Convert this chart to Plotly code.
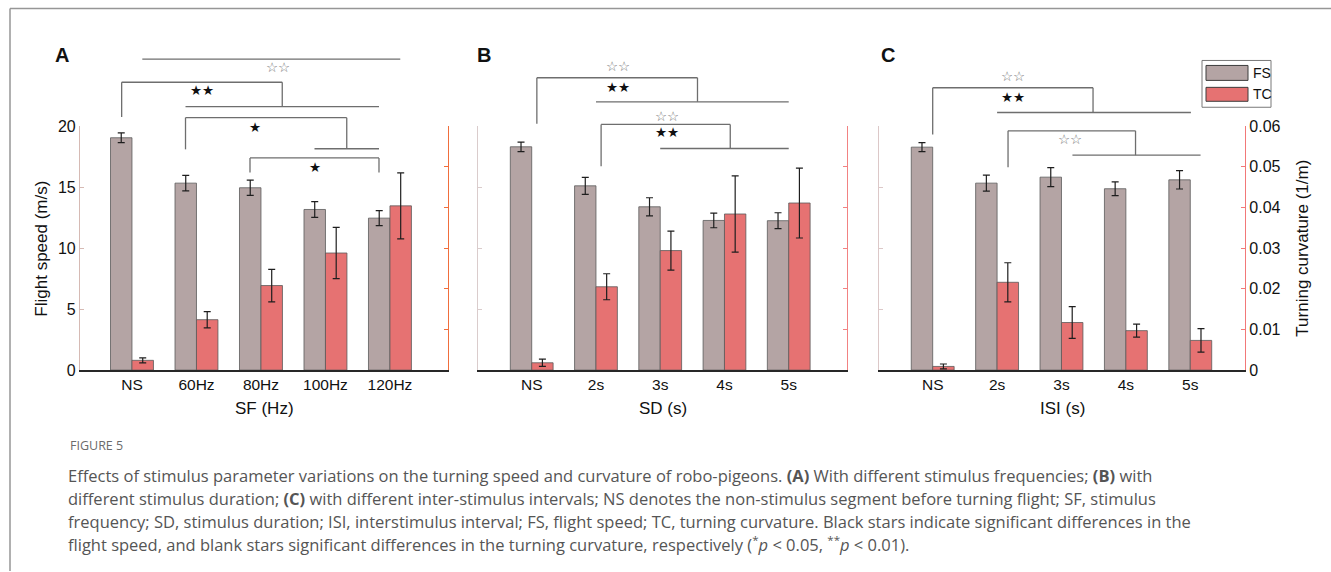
import plotly.graph_objects as go

# ---------------- data ----------------
cats_A = ["NS", "60Hz", "80Hz", "100Hz", "120Hz"]
cats_B = ["NS", "2s", "3s", "4s", "5s"]
cats_C = ["NS", "2s", "3s", "4s", "5s"]

fs_A = [19.05, 15.33, 14.95, 13.17, 12.46]
fs_A_err = [0.40, 0.64, 0.63, 0.64, 0.61]
tc_A = [0.0024, 0.0124, 0.0208, 0.0288, 0.0404]
tc_A_err = [0.0006, 0.0020, 0.0040, 0.0063, 0.0081]

fs_B = [18.31, 15.11, 13.39, 12.27, 12.25]
fs_B_err = [0.39, 0.70, 0.74, 0.60, 0.65]
tc_B = [0.0018, 0.0205, 0.0294, 0.0384, 0.0411]
tc_B_err = [0.0009, 0.0032, 0.0048, 0.0094, 0.0086]

fs_C = [18.28, 15.33, 15.82, 14.87, 15.60]
fs_C_err = [0.37, 0.66, 0.78, 0.56, 0.75]
tc_C = [0.0009, 0.0216, 0.0117, 0.0097, 0.0073]
tc_C_err = [0.0006, 0.0048, 0.0039, 0.0016, 0.0029]

fs_ticks = [0, 5, 10, 15, 20]
tc_ticks = [0, 0.01, 0.02, 0.03, 0.04, 0.05, 0.06]

# ---------------- style ----------------
W, H = 1331, 580
YS, YB = 0.975, 7.3
FS_COL = "rgb(180,164,164)"
TC_COL = "rgb(230,114,114)"
EDGE = "rgb(90,90,90)"
ERR = "rgb(30,30,30)"
FONT = "Liberation Sans, Arial, sans-serif"


def px_x(p):
    return p / W


def px_y(p):
    return 1 - max((p - YB) / YS, 0.5) / H


ydom = [px_y(371), px_y(126)]
panels = [
    dict(cats=cats_A, fs=fs_A, fse=fs_A_err, tc=tc_A, tce=tc_A_err,
         x0=80, x1=448, xr=[-0.806, 4.9],
         lcol="rgb(214,186,180)", rcol="rgb(240,110,60)",
         lshow=True, rshow=False, title="SF (Hz)", letter="A", lx=62),
    dict(cats=cats_B, fs=fs_B, fse=fs_B_err, tc=tc_B, tce=tc_B_err,
         x0=478, x1=847, xr=[-0.836, 4.907],
         lcol="rgb(218,204,204)", rcol="rgb(242,130,130)",
         lshow=False, rshow=False, title="SD (s)", letter="B", lx=484),
    dict(cats=cats_C, fs=fs_C, fse=fs_C_err, tc=tc_C, tce=tc_C_err,
         x0=879, x1=1245, xr=[-0.834, 4.85],
         lcol="rgb(220,200,200)", rcol="rgb(242,120,120)",
         lshow=False, rshow=True, title="ISI (s)", letter="C", lx=888),
]

fig = go.Figure()
layout = dict(
    width=W, height=H, margin=dict(l=0, r=0, t=0, b=0),
    paper_bgcolor="white", plot_bgcolor="rgba(0,0,0,0)",
    showlegend=False, barmode="overlay", autosize=False,
    font=dict(family=FONT, size=15, color="#111"),
)
shapes = []
annotations = []

for i, p in enumerate(panels):
    xa = "x" if i == 0 else f"x{i + 1}"
    yl = "y" if i == 0 else f"y{2 * i + 1}"
    yr = f"y{2 * i + 2}"
    fig.add_trace(go.Bar(
        x=p["cats"], y=p["fs"], xaxis=xa, yaxis=yl, name="FS",
        width=0.333, offset=-0.333, marker=dict(color=FS_COL, line=dict(color=EDGE, width=0.8)),
        error_y=dict(type="data", array=p["fse"], color=ERR, thickness=1.2, width=3.5),
    ))
    fig.add_trace(go.Bar(
        x=p["cats"], y=p["tc"], xaxis=xa, yaxis=yr, name="TC",
        width=0.333, offset=0, marker=dict(color=TC_COL, line=dict(color=EDGE, width=0.8)),
        error_y=dict(type="data", array=p["tce"], color=ERR, thickness=1.2, width=3.5),
    ))
    xkey = "xaxis" if i == 0 else f"xaxis{i + 1}"
    ylkey = "yaxis" if i == 0 else f"yaxis{2 * i + 1}"
    yrkey = f"yaxis{2 * i + 2}"
    layout[xkey] = dict(
        domain=[px_x(p["x0"]), px_x(p["x1"])], anchor=yl, type="category",
        range=p["xr"], showline=True, linecolor="rgb(40,40,40)", linewidth=1.5,
        ticks="", showgrid=False, zeroline=False,
        tickfont=dict(size=15.5, color="#111", family=FONT),
    )
    layout[ylkey] = dict(
        domain=ydom, anchor=xa, range=[0, 20], tickvals=fs_ticks,
        showline=True, linecolor=p["lcol"], linewidth=1.2,
        ticks="inside", ticklen=4, tickcolor=p["lcol"], showgrid=False, zeroline=False,
        showticklabels=p["lshow"], tickfont=dict(size=16, color="#111", family=FONT),
    )
    layout[yrkey] = dict(
        domain=ydom, anchor=xa, overlaying=yl, side="right", range=[0, 0.06],
        tickvals=tc_ticks, ticktext=["0", "0.01", "0.02", "0.03", "0.04", "0.05", "0.06"],
        showline=True, linecolor=p["rcol"], linewidth=1.2,
        ticks="inside", ticklen=4, tickcolor=p["rcol"], showgrid=False, zeroline=False,
        showticklabels=p["rshow"], tickfont=dict(size=16, color="#111", family=FONT),
    )
    annotations.append(dict(
        text=p["title"], xref=f"{xa} domain", x=0.5, yref="paper", y=px_y(410),
        showarrow=False, font=dict(size=17, color="#111", family=FONT),
        xanchor="center", yanchor="middle"))
    annotations.append(dict(
        text=f"<b>{p['letter']}</b>", xref="paper", x=px_x(p["lx"]), yref="paper", y=px_y(55),
        showarrow=False, font=dict(size=20, color="#111", family=FONT),
        xanchor="center", yanchor="middle"))

annotations.append(dict(
    text="Flight speed (m/s)", xref="paper", x=px_x(42), yref="paper", y=px_y(249),
    textangle=-90, showarrow=False, font=dict(size=17, color="#111", family=FONT),
    xanchor="center", yanchor="middle"))
annotations.append(dict(
    text="Turning curvature (1/m)", xref="paper", x=px_x(1303), yref="paper", y=px_y(249),
    textangle=-90, showarrow=False, font=dict(size=17, color="#111", family=FONT),
    xanchor="center", yanchor="middle"))

# ---------------- significance brackets ----------------
LC = "rgb(110,110,110)"


def seg(xa, ya, xa0, ya0, xa1, ya1):
    shapes.append(dict(type="line", xref=xa, yref=f"{ya} domain",
                       x0=xa0, y0=ya0 / 20, x1=xa1, y1=ya1 / 20,
                       line=dict(color=LC, width=1.3)))


def bracket(xa, ya, xl, xr, ytop, ylb, yrb, hx0, hx1):
    seg(xa, ya, xl, ylb, xl, ytop)
    seg(xa, ya, xl, ytop, xr, ytop)
    seg(xa, ya, xr, ytop, xr, yrb)
    seg(xa, ya, hx0, yrb, hx1, yrb)


def star(xa, ya, x, y, filled, n):
    annotations.append(dict(
        text=("★" if filled else "☆") * n, xref=xa, x=x, yref=f"{ya} domain", y=y / 20,
        showarrow=False, font=dict(size=13.5,
                                   color="#111" if filled else "#777",
                                   family="DejaVu Sans"),
        xanchor="center", yanchor="middle"))


# Panel A
seg("x", "y", 0.16, 25.5, 4.16, 25.5)
star("x", "y", 2.27, 24.85, False, 2)
bracket("x", "y", -0.16, 2.33, 23.6, 20.75, 21.6, 0.83, 3.83)
star("x", "y", 1.08, 22.95, True, 2)
bracket("x", "y", 0.83, 3.33, 20.7, 18.1, 18.15, 2.83, 3.83)
star("x", "y", 1.91, 19.9, True, 1)
bracket("x", "y", 1.83, 3.83, 17.4, 16.2, 16.2, 3.83, 3.83)
star("x", "y", 2.83, 16.65, True, 1)

# Panel B
bracket("x2", "y3", 0.08, 2.58, 23.97, 20.2, 22.0, 1.0, 4.0)
star("x2", "y3", 1.34, 24.9, False, 2)
star("x2", "y3", 1.34, 23.25, True, 2)
bracket("x2", "y3", 1.08, 3.09, 20.14, 16.72, 18.17, 2.0, 4.0)
star("x2", "y3", 2.10, 20.8, False, 2)
star("x2", "y3", 2.10, 19.5, True, 2)

# Panel C
bracket("x3", "y5", 0.0, 2.49, 23.15, 19.32, 21.12, 1.0, 4.01)
star("x3", "y5", 1.25, 24.1, False, 2)
star("x3", "y5", 1.25, 22.4, True, 2)
bracket("x3", "y5", 1.17, 3.15, 19.62, 16.64, 17.62, 2.17, 4.16)
star("x3", "y5", 2.13, 18.93, False, 2)

# ---------------- legend box ----------------
shapes.append(dict(type="rect", xref="paper", yref="paper",
                   x0=px_x(1202), x1=px_x(1271), y0=px_y(107), y1=px_y(60),
                   line=dict(color="rgb(120,120,120)", width=1), fillcolor="white"))
for (yt, yb, col, lab) in [(65, 80, FS_COL, "FS"), (87, 101, TC_COL, "TC")]:
    shapes.append(dict(type="rect", xref="paper", yref="paper",
                       x0=px_x(1206), x1=px_x(1248), y0=px_y(yb), y1=px_y(yt),
                       line=dict(color="rgb(60,60,60)", width=1), fillcolor=col))
    annotations.append(dict(text=lab, xref="paper", x=px_x(1251), yref="paper",
                            y=px_y((yt + yb) / 2), showarrow=False, xanchor="left",
                            yanchor="middle", font=dict(size=14, color="#111", family=FONT)))

# ---------------- frame ----------------
shapes.append(dict(type="line", xref="paper", yref="paper", x0=px_x(10), x1=1,
                   y0=px_y(7), y1=px_y(7), line=dict(color="rgb(150,150,150)", width=1.5)))
shapes.append(dict(type="line", xref="paper", yref="paper", x0=px_x(10), x1=px_x(10),
                   y0=px_y(7), y1=0, line=dict(color="rgb(150,150,150)", width=1.5)))

# ---------------- caption ----------------
CAP = "Open Sans, sans-serif"
annotations.append(dict(text="FIGURE 5", xref="paper", x=px_x(68), yref="paper", y=px_y(447),
                        showarrow=False, xanchor="left", yanchor="middle",
                        font=dict(size=12.5, color="#6b6b6b", family=CAP)))
cap_lines = [
    "Effects of stimulus parameter variations on the turning speed and curvature of robo-pigeons. <b>(A)</b> With different stimulus frequencies; <b>(B)</b> with",
    "different stimulus duration; <b>(C)</b> with different inter-stimulus intervals; NS denotes the non-stimulus segment before turning flight; SF, stimulus",
    "frequency; SD, stimulus duration; ISI, interstimulus interval; FS, flight speed; TC, turning curvature. Black stars indicate significant differences in the",
    "flight speed, and blank stars significant differences in the turning curvature, respectively (<sup>*</sup><i>p</i> &lt; 0.05, <sup>**</sup><i>p</i> &lt; 0.01).",
]
for k, line in enumerate(cap_lines):
    annotations.append(dict(text=line, xref="paper", x=px_x(66), yref="paper",
                            y=px_y(477 + 23 * k), showarrow=False, xanchor="left",
                            yanchor="middle", font=dict(size=16.5, color="#555", family=CAP)))

layout["shapes"] = shapes
layout["annotations"] = annotations
fig.update_layout(**layout)
fig.write_html(
    "out.html",
    config={"responsive": False, "displayModeBar": False},
    post_script="document.body.style.margin='0';document.body.style.overflow='hidden';",
)
